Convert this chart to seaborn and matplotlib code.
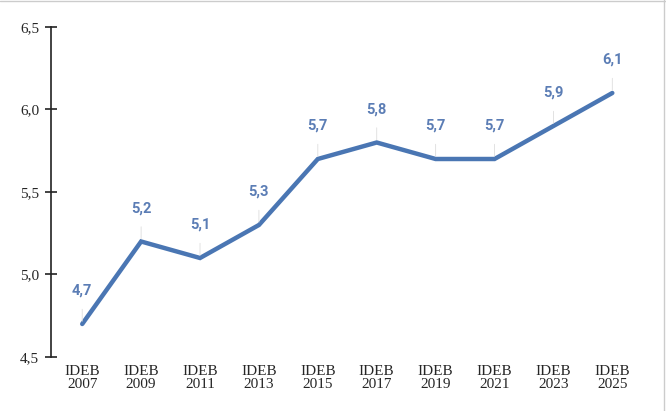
import matplotlib
matplotlib.use('Agg')
import pandas as pd
import seaborn as sns
import matplotlib.pyplot as plt
from matplotlib.lines import Line2D

# Data
labels = ['IDEB\n2007', 'IDEB\n2009', 'IDEB\n2011', 'IDEB\n2013', 'IDEB\n2015',
          'IDEB\n2017', 'IDEB\n2019', 'IDEB\n2021', 'IDEB\n2023', 'IDEB\n2025']
values = [4.7, 5.2, 5.1, 5.3, 5.7, 5.8, 5.7, 5.7, 5.9, 6.1]
y_ticks = [4.5, 5.0, 5.5, 6.0, 6.5]

df = pd.DataFrame({'pos': range(len(labels)), 'valor': values})

sns.set_style('white')
fig = plt.figure(figsize=(6.66, 4.11), dpi=100)
ax = fig.add_axes([51 / 666, 1 - 357 / 411, (640 - 51) / 666, (357 - 27) / 411])

line_color = '#4a76b3'
label_color = '#5b7db5'

sns.lineplot(data=df, x='pos', y='valor', ax=ax, color=line_color, linewidth=3.2,
             solid_joinstyle='miter')

# value labels with faint leader lines
for x, v in zip(df['pos'], df['valor']):
    ax.annotate(f'{v:.1f}'.replace('.', ','), xy=(x, v), xytext=(0, 24),
                textcoords='offset points', ha='center', va='center',
                fontsize=10.5, fontweight='bold', color=label_color,
                fontfamily='Roboto',
                arrowprops=dict(arrowstyle='-', color='#dddddd', lw=0.6,
                                shrinkA=6, shrinkB=2))

ax.set_xlim(-0.53, 9.47)
ax.set_ylim(4.5, 6.5)
ax.set_xticks(df['pos'])
ax.set_xticklabels(labels, fontfamily='Liberation Serif', fontsize=11, linespacing=0.95)
ax.set_yticks(y_ticks)
ax.set_yticklabels([f'{t:.1f}'.replace('.', ',') for t in y_ticks],
                   fontfamily='Liberation Serif', fontsize=11)
ax.tick_params(axis='x', bottom=False, length=0, pad=6)
ax.tick_params(axis='y', left=True, direction='inout', length=9, width=1.2,
               color='#222222', pad=4)
ax.set_xlabel('')
ax.set_ylabel('')

for s in ['top', 'right', 'bottom']:
    ax.spines[s].set_visible(False)
ax.spines['left'].set_color('#222222')
ax.spines['left'].set_linewidth(1.2)

# thin frame at top and right of the image
fig.add_artist(Line2D([0, 1], [0.998, 0.998], transform=fig.transFigure, color='#cccccc', lw=1))
fig.add_artist(Line2D([0.997, 0.997], [0, 1], transform=fig.transFigure, color='#cccccc', lw=1))

fig.savefig('out.png', dpi=100)
